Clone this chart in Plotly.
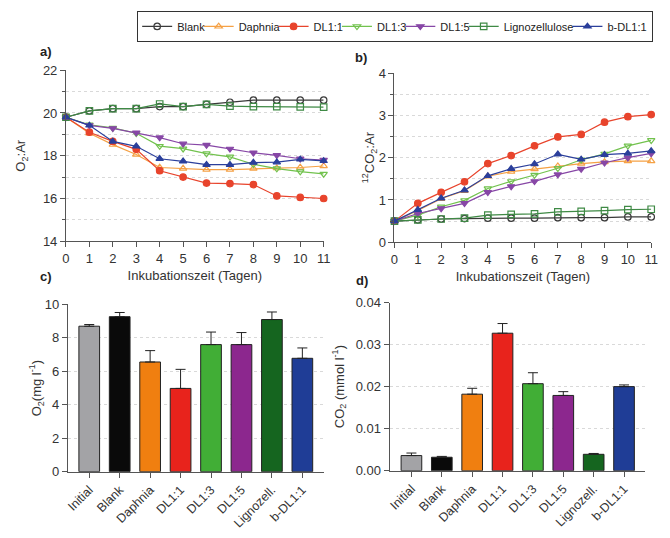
import plotly.graph_objects as go

# ---------------- data ----------------
days = list(range(12))
series_names = ["Blank", "Daphnia", "DL1:1", "DL1:3", "DL1:5", "Lignozellulose", "b-DL1:1"]

o2ar_blank = [19.8, 20.1, 20.2, 20.2, 20.3, 20.3, 20.4, 20.5, 20.6, 20.6, 20.6, 20.6]
o2ar_daphnia = [19.8, 19.05, 18.52, 18.06, 17.45, 17.4, 17.35, 17.35, 17.4, 17.42, 17.45, 17.52]
o2ar_dl11 = [19.8, 19.1, 18.67, 18.3, 17.3, 17.0, 16.72, 16.7, 16.65, 16.12, 16.05, 16.0]
o2ar_dl13 = [19.8, 19.45, 19.3, 19.05, 18.45, 18.33, 18.1, 17.95, 17.6, 17.4, 17.26, 17.15]
o2ar_dl15 = [19.8, 19.42, 19.28, 19.08, 18.85, 18.56, 18.5, 18.32, 18.14, 18.02, 17.86, 17.8]
o2ar_ligno = [19.8, 20.1, 20.2, 20.2, 20.42, 20.3, 20.4, 20.32, 20.3, 20.3, 20.28, 20.27]
o2ar_bdl11 = [19.8, 19.42, 18.67, 18.44, 17.86, 17.74, 17.58, 17.58, 17.68, 17.7, 17.83, 17.76]

co2ar_blank = [0.5, 0.53, 0.55, 0.56, 0.57, 0.57, 0.57, 0.58, 0.58, 0.58, 0.6, 0.6]
co2ar_daphnia = [0.5, 0.75, 1.03, 1.22, 1.56, 1.67, 1.73, 1.8, 1.86, 1.9, 1.92, 1.92]
co2ar_dl11 = [0.5, 0.92, 1.18, 1.43, 1.86, 2.05, 2.28, 2.49, 2.55, 2.84, 2.97, 3.02]
co2ar_dl13 = [0.5, 0.64, 0.84, 0.99, 1.27, 1.44, 1.59, 1.75, 1.95, 2.09, 2.28, 2.41]
co2ar_dl15 = [0.5, 0.68, 0.8, 0.92, 1.18, 1.32, 1.44, 1.6, 1.73, 1.88, 2.0, 2.1]
co2ar_ligno = [0.5, 0.53, 0.55, 0.57, 0.64, 0.66, 0.67, 0.72, 0.73, 0.75, 0.77, 0.78]
co2ar_bdl11 = [0.5, 0.77, 1.04, 1.23, 1.57, 1.74, 1.85, 2.08, 1.96, 2.07, 2.1, 2.16]

bar_labels = ["Initial", "Blank", "Daphnia", "DL1:1", "DL1:3", "DL1:5", "Lignozell.", "b-DL1:1"]
o2_mean = [8.7, 9.27, 6.56, 4.98, 7.6, 7.6, 9.1, 6.78]
o2_err = [0.1, 0.25, 0.68, 1.14, 0.75, 0.72, 0.45, 0.62]
co2_mean = [0.0036, 0.0032, 0.0182, 0.0327, 0.0207, 0.0179, 0.0039, 0.0200]
co2_err = [0.0006, 0.0002, 0.0014, 0.0023, 0.0026, 0.0009, 0.0002, 0.0004]

# ---------------- styles ----------------
line_colors = ["#3a3a3a", "#f5a145", "#e8442c", "#72c24e", "#8747a6", "#3f8a45", "#2b3f9b"]
line_symbols = ["circle-open", "triangle-up-open", "circle", "triangle-down-open",
                "triangle-down", "square-open", "triangle-up"]
bar_colors = ["#a3a3a6", "#0a0a0a", "#f07f10", "#e8231c", "#41ae36", "#8c278e", "#15651f", "#1f3d96"]

FONT = "Liberation Sans, Arial, sans-serif"
W, H = 670, 538
LEG_SIZE = 11
# approximate text widths (em) of the legend labels, used to tighten legend spacing
label_em = {"Blank": 2.50, "Daphnia": 3.72, "DL1:1": 2.67, "DL1:3": 2.67, "DL1:5": 2.67,
            "Lignozellulose": 6.34, "b-DL1:1": 3.56}

o2ar_all = [o2ar_blank, o2ar_daphnia, o2ar_dl11, o2ar_dl13, o2ar_dl15, o2ar_ligno, o2ar_bdl11]
co2ar_all = [co2ar_blank, co2ar_daphnia, co2ar_dl11, co2ar_dl13, co2ar_dl15, co2ar_ligno, co2ar_bdl11]

fig = go.Figure()

for i, name in enumerate(series_names):
    mk = dict(symbol=line_symbols[i], size=6.5, color=line_colors[i],
              line=dict(color=line_colors[i], width=1.2))
    tw = label_em[name] * LEG_SIZE
    lw = tw if i == len(series_names) - 1 else tw - 11
    fig.add_trace(go.Scatter(x=days, y=o2ar_all[i], name=name, mode="lines+markers",
                             line=dict(color=line_colors[i], width=1.2), marker=mk,
                             legendgroup=name, showlegend=True, cliponaxis=False,
                             legendwidth=lw, xaxis="x", yaxis="y"))
for i, name in enumerate(series_names):
    mk = dict(symbol=line_symbols[i], size=6.5, color=line_colors[i],
              line=dict(color=line_colors[i], width=1.2))
    fig.add_trace(go.Scatter(x=days, y=co2ar_all[i], name=name, mode="lines+markers",
                             line=dict(color=line_colors[i], width=1.2), marker=mk,
                             legendgroup=name, showlegend=False, cliponaxis=False,
                             xaxis="x2", yaxis="y2"))

err_style = dict(type="data", symmetric=False, color="#222", thickness=1, width=5)
fig.add_trace(go.Bar(x=bar_labels, y=o2_mean, marker=dict(color=bar_colors, line=dict(color="#222", width=1)),
                     error_y=dict(array=o2_err, arrayminus=[0] * len(o2_err), **err_style),
                     width=0.68, showlegend=False, xaxis="x3", yaxis="y3"))
fig.add_trace(go.Bar(x=bar_labels, y=co2_mean, marker=dict(color=bar_colors, line=dict(color="#222", width=1)),
                     error_y=dict(array=co2_err, arrayminus=[0] * len(co2_err), **err_style),
                     width=0.68, showlegend=False, xaxis="x4", yaxis="y4"))

axcol = "#555"
gridc = "#d9d9d9"
tickf = dict(family=FONT, size=13, color="#333")
tickf_bar = dict(family=FONT, size=12.5, color="#333")
titlef = dict(family=FONT, size=13, color="#333")


def xd(a, b):
    return [a / W, b / W]


def yd(top, bottom):
    return [1 - bottom / H, 1 - top / H]


common_x = dict(showline=True, linecolor=axcol, linewidth=1, ticks="outside", ticklen=5,
                tickcolor=axcol, zeroline=False, showgrid=False)
common_y = dict(showline=True, linecolor=axcol, linewidth=1, ticks="outside", ticklen=5,
                tickcolor=axcol, tickfont=tickf, zeroline=False, showgrid=True,
                gridcolor=gridc, griddash="dot", gridwidth=1)

fig.update_layout(
    width=W, height=H, margin=dict(l=0, r=0, t=0, b=0),
    paper_bgcolor="white", plot_bgcolor="white",
    font=dict(family=FONT, size=13, color="#333"),
    xaxis=dict(domain=xd(63, 325), range=[0, 11], dtick=1, anchor="y", tickfont=tickf,
               title=dict(text="Inkubationszeit (Tagen)", font=titlef, standoff=6), **common_x),
    yaxis=dict(domain=yd(65, 241), range=[14, 22], dtick=2, anchor="x",
               minor=dict(dtick=1, ticks="outside", ticklen=3, tickcolor=axcol,
                          showgrid=True, gridcolor=gridc, griddash="dot"),
               title=dict(text="O<sub>2</sub>:Ar", font=titlef, standoff=14), **common_y),
    xaxis2=dict(domain=xd(397, 658), range=[0, 11], dtick=1, anchor="y2", tickfont=tickf,
                title=dict(text="Inkubationszeit (Tagen)", font=titlef, standoff=6), **common_x),
    yaxis2=dict(domain=yd(68, 242), range=[0, 4], dtick=1, anchor="x2",
                minor=dict(dtick=0.5, ticks="outside", ticklen=3, tickcolor=axcol,
                           showgrid=True, gridcolor=gridc, griddash="dot"),
                title=dict(text="<sup>12</sup>CO<sub>2</sub>:Ar", font=titlef, standoff=0), **common_y),
    xaxis3=dict(domain=xd(65, 325), type="category", range=[-0.7, 7.7], anchor="y3",
                tickangle=-45, tickfont=tickf_bar, **common_x),
    yaxis3=dict(domain=yd(306, 478), range=[0, 10], dtick=2, anchor="x3",
                title=dict(text="O<sub>2</sub>(mg l<sup>-1</sup>)", font=titlef, standoff=0), **common_y),
    xaxis4=dict(domain=xd(392, 652), type="category", range=[-0.72, 7.7], anchor="y4",
                tickangle=-45, tickfont=tickf_bar, **common_x),
    yaxis4=dict(domain=yd(304, 477), range=[0, 0.04], dtick=0.01, tickformat=".2f", anchor="x4",
                title=dict(text="CO<sub>2</sub> (mmol l<sup>-1</sup>)", font=titlef, standoff=8), **common_y),
    legend=dict(orientation="h", x=660 / W, xanchor="right", y=1 - 4 / H, yanchor="top",
                bordercolor="#333", borderwidth=1, bgcolor="white",
                font=dict(family=FONT, size=LEG_SIZE, color="#222"), itemwidth=30),
)

for txt, x, y in [("a)", 43, 46), ("b)", 363, 52), ("c)", 43, 277), ("d)", 364, 281)]:
    fig.add_annotation(text="<b>%s</b>" % txt, x=x / W, y=1 - y / H, xref="paper", yref="paper",
                       showarrow=False, font=dict(family=FONT, size=13, color="#222"),
                       xanchor="center", yanchor="middle")

fig.write_html("out.html", config={"displayModeBar": False},
               post_script="document.body.style.margin='0';")
